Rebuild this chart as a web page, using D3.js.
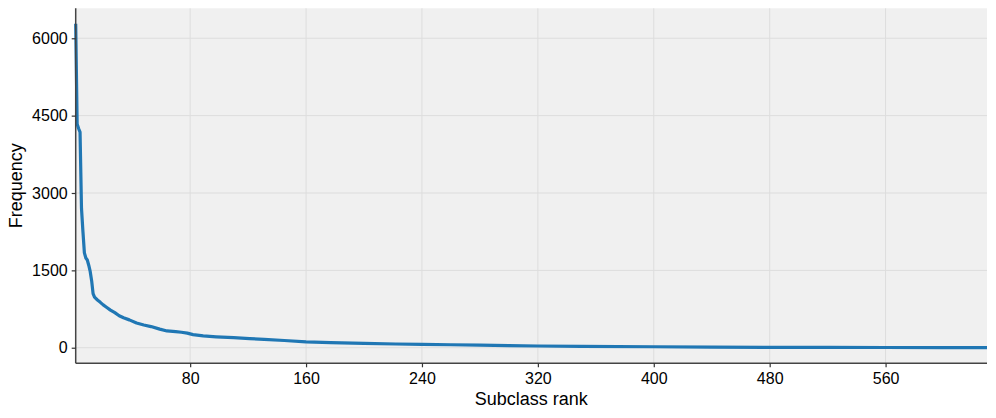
<!DOCTYPE html>
<html>
<head>
<meta charset="utf-8">
<script src="https://cdn.jsdelivr.net/npm/d3@7"></script>
<style>
  html, body { margin: 0; padding: 0; background: #fff; }
  svg { display: block; font-family: "Liberation Sans", Arial, Helvetica, sans-serif; }
</style>
</head>
<body>
<svg id="chart" width="996" height="418"></svg>
<script>
const ranks = [1,2,3,4,5,6,7,8,9,10,11,12,13,14,16,18,20,22,25,28,31,34,38,43,48,53,59,64,70,74,78,82,89,98,110,121,131,145,160,177,200,222,240,260,280,300,320,350,400,440,480,520,560,600,630];
const frequencies = [6280,4340,4250,4180,2700,2250,1840,1740,1700,1600,1480,1300,1050,980,925,880,830,790,730,680,620,580,540,480,440,410,360,325,312,300,282,255,230,212,194,175,163,140,115,98,85,72,66,58,50,40,33,25,19,13,8,6,4,2,1];
const xTicks = [80,160,240,320,400,480,560];
const yTicks = [0,1500,3000,4500,6000];
const xLabel = "Subclass rank";
const yLabel = "Frequency";

(function () {
const svg = d3.select("#chart");
const pLeft = 75.7, pRight = 987, pTop = 8.3, pBottom = 363.3;

const x = d3.scaleLinear().domain([1, 630]).range([pLeft, pRight]);
const y = d3.scaleLinear().domain([-302, 6581]).range([pBottom, pTop]);

svg.append("rect")
  .attr("x", pLeft).attr("y", pTop)
  .attr("width", pRight - pLeft).attr("height", pBottom - pTop)
  .attr("fill", "#f0f0f0");

// gridlines
svg.append("g").selectAll("line").data(xTicks).join("line")
  .attr("x1", d => x(d)).attr("x2", d => x(d))
  .attr("y1", pTop).attr("y2", pBottom)
  .attr("stroke", "#dddddd").attr("stroke-width", 1);
svg.append("g").selectAll("line").data(yTicks).join("line")
  .attr("x1", pLeft).attr("x2", pRight)
  .attr("y1", d => y(d)).attr("y2", d => y(d))
  .attr("stroke", "#dddddd").attr("stroke-width", 1);

// line
const pts = ranks.map((r, i) => [r, frequencies[i]]);
svg.append("path")
  .datum(pts)
  .attr("fill", "none")
  .attr("stroke", "#2077b4")
  .attr("stroke-width", 3.2)
  .attr("stroke-linejoin", "round")
  .attr("d", d3.line().x(d => x(d[0])).y(d => y(d[1])));

// axes
const xAxis = svg.append("g")
  .attr("transform", `translate(0,${pBottom})`)
  .call(d3.axisBottom(x).tickValues(xTicks).tickSize(4).tickPadding(5).tickFormat(d3.format("d")));
const yAxis = svg.append("g")
  .attr("transform", `translate(${pLeft},0)`)
  .call(d3.axisLeft(y).tickValues(yTicks).tickSize(4).tickPadding(4).tickFormat(d3.format("d")));

[xAxis, yAxis].forEach(g => {
  g.select(".domain").attr("stroke", "#444").attr("stroke-width", 1.5);
  g.selectAll(".tick line").attr("stroke", "#333").attr("stroke-width", 1.2);
  g.selectAll(".tick text").attr("fill", "#000").style("font-size", "16px")
    .style("font-family", "'Liberation Sans', Arial, sans-serif");
});
xAxis.select(".domain").attr("d", `M${pLeft},0H${pRight}`);
yAxis.select(".domain").attr("d", `M0,${pTop}V${pBottom}`);

svg.append("text")
  .attr("x", (pLeft + pRight) / 2).attr("y", 405)
  .attr("text-anchor", "middle")
  .style("font-size", "18px").attr("fill", "#000")
  .text(xLabel);

svg.append("text")
  .attr("transform", `translate(22,${(pTop + pBottom) / 2}) rotate(-90)`)
  .attr("text-anchor", "middle")
  .style("font-size", "18px").attr("fill", "#000")
  .text(yLabel);
})();
</script>
</body>
</html>
